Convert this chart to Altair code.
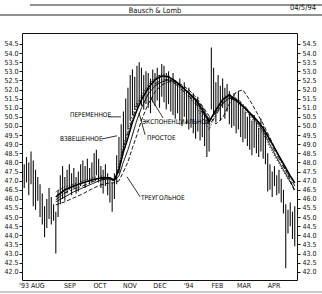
import altair as alt
import pandas as pd

# ---------------- data ----------------
# daily high / low bars (bar index 0..120)
highs = [47.9, 48.3, 48.0, 48.6, 48.1, 47.6, 47.2, 46.8, 46.3, 45.6,
         46.0, 46.6, 46.1, 45.7, 45.3, 46.5, 47.3, 47.8, 47.2, 47.6,
         47.9, 47.4, 47.7, 47.2, 47.5, 47.9, 48.1, 47.8, 48.2, 47.7,
         48.0, 48.5, 48.7, 48.2, 47.8, 47.6, 47.9, 47.4, 47.1, 46.9,
         47.4, 48.4, 49.4, 50.1, 50.8, 51.5, 52.1, 52.8, 53.1, 52.7,
         53.3, 53.5, 53.2, 52.8, 53.0, 52.9, 52.6, 53.1, 52.9, 53.2,
         52.8, 53.4, 53.3, 52.9, 53.0, 52.6, 52.9, 52.5, 52.3, 52.6,
         52.2, 52.4, 51.9, 52.1, 51.7, 51.8, 51.5, 51.6, 51.2, 51.0,
         50.8, 50.2, 50.5, 54.3, 53.2, 52.4, 52.8, 52.2, 52.6, 52.1,
         52.3, 51.9, 51.6, 51.8, 51.5, 51.9, 51.3, 51.0, 50.8, 50.5,
         50.7, 50.3, 50.6, 50.2, 49.9, 50.4, 50.0, 49.6, 48.5, 47.9,
         47.5, 47.8, 47.3, 47.6, 47.1, 46.5, 45.7, 45.4, 45.8, 45.3,
         45.6]
lows = [46.6, 46.9, 46.2, 46.8, 45.6, 45.4, 45.9, 45.0, 44.6, 43.9,
        44.4, 44.9, 44.6, 44.8, 43.0, 45.0, 45.7, 46.0, 45.9, 46.3,
        46.5, 46.2, 46.6, 46.3, 46.4, 46.7, 46.9, 46.6, 47.0, 46.8,
        46.9, 47.1, 47.3, 46.9, 46.6, 46.3, 46.7, 46.2, 45.8, 45.3,
        46.0, 46.8, 47.4, 48.0, 48.6, 49.2, 49.8, 50.3, 50.6, 50.9,
        51.0, 51.3, 51.1, 50.9, 51.2, 51.0, 50.7, 51.3, 51.1, 51.4,
        51.0, 51.6, 51.3, 50.9, 51.2, 50.8, 50.6, 50.4, 50.7, 50.3,
        50.0, 50.5, 50.1, 49.8, 49.9, 49.6, 49.3, 49.7, 49.2, 49.4,
        48.9, 48.3, 48.6, 50.9, 50.6, 50.2, 50.9, 50.3, 51.0, 50.4,
        50.8, 50.1, 49.9, 50.0, 49.6, 49.8, 49.4, 49.1, 49.3, 48.9,
        48.7, 48.4, 48.8, 48.5, 48.3, 48.6, 48.2, 47.9, 46.4, 46.5,
        46.1, 46.7, 46.2, 46.3, 45.8, 45.2, 42.2, 44.1, 44.5, 43.8,
        43.4]

# moving averages sampled at these bar indices
ma_idx = [14, 18, 22, 26, 30, 34, 38, 40, 42, 44, 46, 48, 50, 52, 55, 58, 61,
          64, 67, 70, 73, 76, 79, 82, 85, 88, 91, 94, 97, 100, 103, 106, 109,
          112, 115, 118, 120]
ma_exp = [46.11, 46.50, 46.71, 46.88, 47.04, 47.15, 47.15, 47.04, 47.59, 48.58,
          49.35, 50.22, 50.88, 51.43, 52.09, 52.53, 52.75, 52.69, 52.47, 52.14,
          51.81, 51.43, 50.88, 50.22, 50.88, 51.43, 51.70, 51.43, 51.10, 50.72,
          50.33, 49.89, 49.24, 48.58, 47.92, 47.26, 46.88]
ma_simple = [45.84, 46.11, 46.39, 46.61, 46.82, 47.04, 47.10, 46.99, 47.26, 48.03,
             48.69, 49.51, 50.33, 50.99, 51.76, 52.20, 52.42, 52.53, 52.42, 52.14,
             51.81, 51.48, 51.05, 50.33, 50.72, 51.21, 51.54, 51.37, 51.05, 50.66,
             50.22, 49.73, 48.96, 48.25, 47.59, 46.93, 46.50]
ma_tri = [45.67, 45.84, 46.06, 46.28, 46.55, 46.77, 46.88, 46.88, 46.99, 47.48,
          48.03, 48.80, 49.51, 50.33, 51.21, 51.87, 52.25, 52.42, 52.42, 52.25,
          51.98, 51.59, 51.10, 50.55, 50.11, 50.44, 51.21, 51.87, 51.98, 51.43,
          50.77, 50.11, 49.35, 48.58, 47.81, 47.04, 46.39]
ma_wtd = [46.39, 46.66, 46.82, 46.99, 47.15, 47.26, 47.10, 46.93, 47.87, 48.96,
          49.79, 50.61, 51.27, 51.70, 52.25, 52.64, 52.86, 52.75, 52.42, 51.98,
          51.59, 51.16, 50.44, 49.79, 50.77, 51.54, 51.76, 51.43, 50.99, 50.55,
          50.11, 49.57, 48.80, 48.14, 47.48, 46.88, 46.61]
ma_var = [45.95, 46.33, 46.55, 46.71, 46.93, 47.10, 47.04, 47.04, 47.70, 48.80,
          49.62, 50.44, 51.10, 51.59, 51.98, 52.31, 52.53, 52.53, 52.31, 51.98,
          51.65, 51.27, 50.72, 50.06, 50.55, 51.27, 51.59, 51.54, 51.21, 50.77,
          50.39, 49.89, 49.13, 48.41, 47.76, 47.15, 46.71]

month_labels = ["'93 AUG", "SEP", "OCT", "NOV", "DEC", "'94", "FEB", "MAR", "APR"]
month_pos = [3.4, 20.3, 33.6, 46.9, 60.2, 72.9, 85.7, 97.5, 110.8]

y_ticks = [42.0 + 0.5 * k for k in range(26)]

ann_text = ["ПЕРЕМЕННОЕ", "ВЗВЕШЕННОЕ", "ЭКСПОНЕНЦИАЛЬНОЕ", "ПРОСТОЕ", "ТРЕУГОЛЬНОЕ"]
ann_x = [20.3, 15.9, 52.2, 54.5, 51.8]
ann_y = [50.61, 49.29, 50.22, 49.35, 46.06]
lead_x1 = [37.2, 34.5, 61.6, 53.6, 51.4]
lead_y1 = [50.50, 49.29, 50.44, 49.51, 46.11]
lead_x2 = [42.9, 41.1, 55.8, 50.9, 45.6]
lead_y2 = [50.50, 49.46, 51.59, 50.72, 47.21]

title_text = "Bausch & Lomb"
date_text = "04/5/94"

# ---------------- chart ----------------
FONT = "DejaVu Sans Condensed"
xs = alt.Scale(domain=[-1, 121], nice=False, zero=False)
ys = alt.Scale(domain=[41.55, 55.1], nice=False, zero=False)

bars_df = pd.DataFrame({"i": list(range(len(highs))), "hi": highs, "lo": lows})

ma_rows = []
for name, vals in [("exp", ma_exp), ("simple", ma_simple), ("tri", ma_tri),
                   ("wtd", ma_wtd), ("var", ma_var)]:
    for i, v in zip(ma_idx, vals):
        ma_rows.append({"i": i, "v": v, "s": name})
ma_df = pd.DataFrame(ma_rows)

bars = alt.Chart(bars_df).mark_rule(color="#111", strokeWidth=1.1).encode(
    x=alt.X("i:Q", scale=xs, axis=None),
    y=alt.Y("lo:Q", scale=ys,
            axis=alt.Axis(values=y_ticks, format=".1f", title=None, grid=False,
                          orient="left", tickSize=3, tickColor="#111",
                          domain=False, labelFont=FONT, labelFontSize=7,
                          labelColor="#111", labelPadding=1, labelOverlap=False)),
    y2="hi:Q",
)

right_axis = alt.Chart(bars_df).mark_rule(opacity=0).encode(
    x=alt.X("i:Q", scale=xs, axis=None),
    y=alt.Y("lo:Q", scale=ys,
            axis=alt.Axis(values=y_ticks, format=".1f", title=None, grid=False,
                          orient="right", tickSize=3, tickColor="#111",
                          domain=False, labelFont=FONT, labelFontSize=7,
                          labelColor="#111", labelPadding=2, labelOverlap=False)),
)

month_df = pd.DataFrame({"m": month_labels, "p": month_pos})
months = alt.Chart(month_df).mark_text(font=FONT, fontSize=7, color="#111",
                                       baseline="middle").encode(
    x=alt.X("p:Q", scale=xs, axis=None), y=alt.value(253), text="m:N")

styles = {
    "exp": dict(strokeWidth=1.6, strokeDash=[1, 0]),
    "simple": dict(strokeWidth=1.0, strokeDash=[1, 0]),
    "tri": dict(strokeWidth=0.9, strokeDash=[4, 2]),
    "wtd": dict(strokeWidth=0.9, strokeDash=[1, 2]),
    "var": dict(strokeWidth=0.9, strokeDash=[5, 2, 1, 2]),
}
ma_layers = []
for name, st in styles.items():
    ma_layers.append(
        alt.Chart(ma_df[ma_df.s == name]).mark_line(color="black", **st).encode(
            x=alt.X("i:Q", scale=xs, axis=None),
            y=alt.Y("v:Q", scale=ys, axis=None), order="i:Q"))

ann_df = pd.DataFrame({"t": ann_text, "x": ann_x, "y": ann_y})
ann = alt.Chart(ann_df).mark_text(align="left", baseline="middle", font=FONT,
                                  fontSize=6.5, color="black").encode(
    x=alt.X("x:Q", scale=xs, axis=None), y=alt.Y("y:Q", scale=ys, axis=None),
    text="t:N")

lead_df = pd.DataFrame({"x1": lead_x1, "y1": lead_y1, "x2": lead_x2, "y2": lead_y2})
leads = alt.Chart(lead_df).mark_rule(color="black", strokeWidth=0.8).encode(
    x=alt.X("x1:Q", scale=xs, axis=None), y=alt.Y("y1:Q", scale=ys, axis=None),
    x2="x2:Q", y2="y2:Q")

# header / frame decorations (pixel positions relative to plot origin)
deco_df = pd.DataFrame({"k": [0]})
hline1 = alt.Chart(deco_df).mark_rule(color="#222", strokeWidth=1).encode(
    x=alt.value(8), x2=alt.value(300), y=alt.value(-28))
hline2 = alt.Chart(deco_df).mark_rule(color="#222", strokeWidth=1).encode(
    x=alt.value(-22), x2=alt.value(300), y=alt.value(-18))
hline3 = alt.Chart(deco_df).mark_rule(color="#999", strokeWidth=1).encode(
    x=alt.value(-22), x2=alt.value(300), y=alt.value(259))
title = alt.Chart(deco_df).mark_text(font=FONT, fontSize=7.5, color="#111").encode(
    x=alt.value(133), y=alt.value(-22), text=alt.value(title_text))
date = alt.Chart(deco_df).mark_text(font=FONT, fontSize=7.5, color="#111").encode(
    x=alt.value(281), y=alt.value(-25), text=alt.value(date_text))

chart = alt.layer(
    bars, right_axis, months, *ma_layers, leads, ann,
    hline1, hline2, hline3, title, date
).properties(
    width=275, height=247,
    autosize=alt.AutoSizeParams(type="none"),
    padding={"left": 22, "top": 33, "right": 25, "bottom": 14},
    background="white",
).configure_view(stroke="#111", strokeWidth=1)

chart.save("out.html", embed_options={"renderer": "svg", "actions": False})
